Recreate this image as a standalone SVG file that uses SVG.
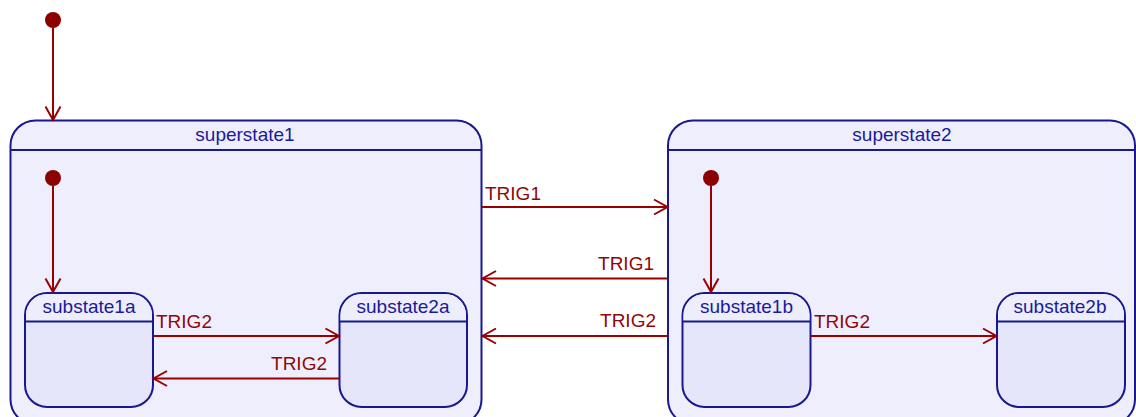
<svg xmlns="http://www.w3.org/2000/svg" width="1136" height="417" viewBox="0 0 1136 417">
  <style>
    .super { fill: #EEEEFC; stroke: #18188F; stroke-width: 2; }
    .sub { fill: #E6E6FA; stroke: #18188F; stroke-width: 2; }
    .sub-head { fill: #EDEDFC; }
    .divider { stroke: #18188F; stroke-width: 2; }
    .name { font-family: "Liberation Sans", Arial, sans-serif; font-size: 19px; fill: #1A1A9C; text-anchor: middle; }
    .start { fill: #8B0000; }
    .edge { stroke: #990000; stroke-width: 2; fill: none; marker-end: url(#open-arrow); }
    .label { font-family: "Liberation Sans", Arial, sans-serif; font-size: 19px; fill: #8E0808; }
  </style>
  <defs>
    <marker id="open-arrow" markerUnits="userSpaceOnUse" markerWidth="20" markerHeight="20" viewBox="-16 -10 20 20" refX="0" refY="0" orient="auto" overflow="visible">
      <path d="M-13.5,-7.5 L0,0 L-13.5,7.5" fill="none" stroke="#990000" stroke-width="2"/>
    </marker>
  </defs>
  <rect width="1136" height="417" fill="#FFFFFF"/>

  <!-- composite state: superstate1 -->
  <g id="superstate1">
    <rect class="super" x="10.5" y="120.5" width="471" height="304" rx="25" ry="25"/>
    <line class="divider" x1="10.5" y1="150" x2="481.5" y2="150"/>
    <text class="name" x="245" y="141">superstate1</text>
  </g>

  <!-- composite state: superstate2 -->
  <g id="superstate2">
    <rect class="super" x="668" y="120.5" width="467" height="304" rx="25" ry="25"/>
    <line class="divider" x1="668" y1="150" x2="1135" y2="150"/>
    <text class="name" x="902" y="141">superstate2</text>
  </g>

  <!-- initial pseudo-states -->
  <g id="start-top"><circle class="start" cx="53" cy="20" r="8"/></g>
  <g id="start-s1"><circle class="start" cx="53" cy="178" r="8"/></g>
  <g id="start-s2"><circle class="start" cx="711" cy="178" r="8"/></g>

  <!-- simple states -->
  <g id="substate1a">
    <rect class="sub" x="25" y="293" width="128" height="114" rx="22" ry="22"/>
    <path class="sub-head" d="M26,321.5 V315 A21,21 0 0 1 47,294 H131 A21,21 0 0 1 152,315 V321.5 Z"/>
    <line class="divider" x1="25" y1="321.5" x2="153" y2="321.5"/>
    <text class="name" x="89" y="313">substate1a</text>
  </g>
  <g id="substate2a">
    <rect class="sub" x="339.5" y="293" width="127.5" height="114" rx="22" ry="22"/>
    <path class="sub-head" d="M340.5,321.5 V315 A21,21 0 0 1 361.5,294 H445 A21,21 0 0 1 466,315 V321.5 Z"/>
    <line class="divider" x1="339.5" y1="321.5" x2="467" y2="321.5"/>
    <text class="name" x="403" y="313">substate2a</text>
  </g>
  <g id="substate1b">
    <rect class="sub" x="682.5" y="293" width="128" height="114" rx="22" ry="22"/>
    <path class="sub-head" d="M683.5,321.5 V315 A21,21 0 0 1 704.5,294 H788.5 A21,21 0 0 1 809.5,315 V321.5 Z"/>
    <line class="divider" x1="682.5" y1="321.5" x2="810.5" y2="321.5"/>
    <text class="name" x="746.5" y="313">substate1b</text>
  </g>
  <g id="substate2b">
    <rect class="sub" x="997" y="293" width="128" height="114" rx="22" ry="22"/>
    <path class="sub-head" d="M998,321.5 V315 A21,21 0 0 1 1019,294 H1103 A21,21 0 0 1 1124,315 V321.5 Z"/>
    <line class="divider" x1="997" y1="321.5" x2="1125" y2="321.5"/>
    <text class="name" x="1060" y="313">substate2b</text>
  </g>

  <!-- transitions -->
  <g id="connectors">
    <line class="edge" x1="53" y1="28" x2="53" y2="120"/>
    <line class="edge" x1="53" y1="186" x2="53" y2="292"/>
    <line class="edge" x1="711" y1="186" x2="711" y2="292"/>

    <line class="edge" x1="153" y1="336" x2="339" y2="336"/>
    <text class="label" x="156" y="328">TRIG2</text>

    <line class="edge" x1="339.5" y1="378.5" x2="153.5" y2="378.5"/>
    <text class="label" x="327" y="370" text-anchor="end">TRIG2</text>

    <line class="edge" x1="482" y1="207" x2="667.5" y2="207"/>
    <text class="label" x="485" y="200">TRIG1</text>

    <line class="edge" x1="668" y1="278.5" x2="482.5" y2="278.5"/>
    <text class="label" x="654" y="270" text-anchor="end">TRIG1</text>

    <line class="edge" x1="668" y1="336" x2="482.5" y2="336"/>
    <text class="label" x="656" y="327" text-anchor="end">TRIG2</text>

    <line class="edge" x1="810.5" y1="336" x2="996.5" y2="336"/>
    <text class="label" x="814" y="328">TRIG2</text>
  </g>
</svg>
